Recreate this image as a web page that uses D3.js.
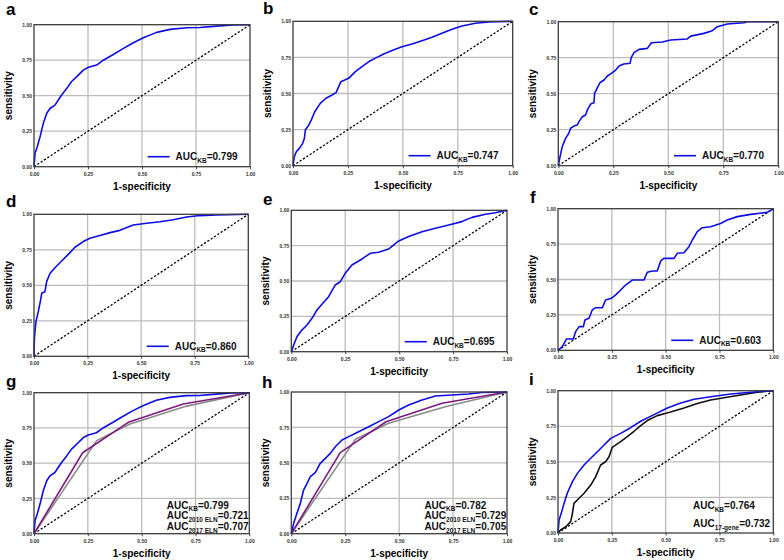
<!DOCTYPE html>
<html><head><meta charset="utf-8">
<script src="https://cdn.jsdelivr.net/npm/d3@7"></script>
<style>body{margin:0;background:#fff}svg{display:block}text{font-family:"Liberation Sans",Arial,sans-serif;font-weight:bold}</style>
</head><body><svg id="c" width="784" height="560"></svg>
<script>
// ---------- data ----------
const tickValues = [0, 0.25, 0.5, 0.75, 1];
const gridValues = [0.25, 0.5, 0.75];
const panelLetters = ["a","b","c","d","e","f","g","h","i"];
const xTitle = "1-specificity", yTitle = "sensitivity";

const rocA = [[0,0],[0.005,0.094],[0.015,0.14],[0.028,0.21],[0.043,0.305],[0.059,0.376],[0.074,0.41],[0.097,0.434],[0.117,0.48],[0.128,0.505],[0.151,0.55],[0.174,0.6],[0.198,0.634],[0.228,0.68],[0.252,0.70],[0.29,0.716],[0.321,0.75],[0.367,0.79],[0.414,0.833],[0.46,0.873],[0.506,0.908],[0.568,0.946],[0.63,0.967],[0.707,0.979],[0.769,0.98],[0.846,0.99],[0.92,0.998],[1,1]];
const rocB = [[0,0],[0.006,0.062],[0.015,0.097],[0.029,0.12],[0.044,0.155],[0.052,0.19],[0.056,0.247],[0.071,0.28],[0.083,0.316],[0.099,0.374],[0.124,0.432],[0.15,0.467],[0.178,0.49],[0.196,0.506],[0.218,0.582],[0.253,0.605],[0.284,0.651],[0.314,0.686],[0.352,0.727],[0.382,0.75],[0.413,0.774],[0.451,0.797],[0.496,0.824],[0.542,0.843],[0.587,0.866],[0.633,0.889],[0.678,0.917],[0.724,0.945],[0.769,0.968],[0.83,0.986],[0.891,0.995],[1,1]];
const rocC = [[0,0],[0.008,0.0625],[0.018,0.132],[0.033,0.19],[0.048,0.225],[0.056,0.26],[0.071,0.275],[0.086,0.282],[0.094,0.306],[0.109,0.34],[0.124,0.352],[0.132,0.387],[0.147,0.428],[0.162,0.4375],[0.165,0.502],[0.18,0.549],[0.189,0.576],[0.208,0.595],[0.223,0.623],[0.241,0.641],[0.261,0.664],[0.276,0.692],[0.298,0.706],[0.326,0.711],[0.332,0.752],[0.344,0.785],[0.367,0.808],[0.405,0.815],[0.423,0.854],[0.473,0.859],[0.511,0.873],[0.586,0.88],[0.602,0.9],[0.662,0.919],[0.7,0.9375],[0.723,0.965],[0.768,0.984],[0.844,0.993],[0.859,1],[1,1]];
const rocD = [[0,0],[0.002,0.127],[0.009,0.244],[0.02,0.315],[0.031,0.397],[0.036,0.444],[0.051,0.455],[0.059,0.526],[0.075,0.585],[0.098,0.624],[0.129,0.671],[0.16,0.718],[0.191,0.768],[0.23,0.808],[0.261,0.831],[0.308,0.85],[0.355,0.871],[0.401,0.887],[0.463,0.925],[0.526,0.937],[0.588,0.948],[0.65,0.962],[0.712,0.981],[0.774,0.991],[0.852,0.995],[1,1]];
const rocE = [[0,0],[0.011,0.047],[0.026,0.106],[0.049,0.153],[0.073,0.189],[0.096,0.236],[0.119,0.295],[0.142,0.335],[0.173,0.389],[0.204,0.472],[0.227,0.495],[0.25,0.554],[0.281,0.613],[0.328,0.656],[0.366,0.696],[0.405,0.703],[0.451,0.726],[0.498,0.783],[0.544,0.814],[0.606,0.849],[0.668,0.873],[0.73,0.896],[0.791,0.92],[0.838,0.95],[0.9,0.972],[0.946,0.983],[1,1]];
const rocF = [[0,0],[0.02,0.026],[0.04,0.08],[0.071,0.08],[0.082,0.132],[0.098,0.167],[0.118,0.167],[0.125,0.214],[0.144,0.226],[0.159,0.285],[0.175,0.301],[0.206,0.301],[0.221,0.355],[0.248,0.367],[0.268,0.391],[0.291,0.426],[0.314,0.461],[0.345,0.496],[0.399,0.496],[0.415,0.551],[0.438,0.56],[0.461,0.56],[0.477,0.631],[0.492,0.649],[0.539,0.649],[0.554,0.685],[0.585,0.689],[0.608,0.732],[0.624,0.779],[0.647,0.838],[0.67,0.866],[0.709,0.873],[0.755,0.896],[0.786,0.92],[0.833,0.944],[0.895,0.96],[0.972,0.974],[1,1]];
const eln2010G = [[0,0],[0.226,0.574],[0.438,0.79],[0.693,0.92],[1,1]];
const eln2017G = [[0,0],[0.291,0.66],[0.446,0.778],[0.709,0.905],[1,1]];
const rocH = [[0,0],[0.011,0.073],[0.026,0.144],[0.042,0.214],[0.057,0.308],[0.073,0.355],[0.088,0.402],[0.111,0.431],[0.134,0.496],[0.158,0.532],[0.181,0.567],[0.204,0.614],[0.235,0.661],[0.266,0.685],[0.312,0.72],[0.359,0.755],[0.405,0.791],[0.451,0.826],[0.498,0.873],[0.544,0.908],[0.606,0.944],[0.668,0.972],[0.745,0.979],[0.822,0.986],[0.884,0.996],[1,1]];
const eln2010H = [[0,0],[0.227,0.572],[0.439,0.79],[0.699,0.92],[1,1]];
const eln2017H = [[0,0],[0.297,0.666],[0.451,0.779],[0.714,0.896],[1,1]];
const rocI = [[0,0],[0.005,0.091],[0.015,0.138],[0.028,0.208],[0.043,0.279],[0.067,0.361],[0.09,0.419],[0.121,0.478],[0.152,0.525],[0.183,0.571],[0.214,0.618],[0.245,0.665],[0.291,0.7],[0.337,0.74],[0.384,0.785],[0.446,0.832],[0.508,0.878],[0.57,0.913],[0.632,0.94],[0.709,0.958],[0.802,0.977],[0.91,0.991],[1,1]];
const gene17I = [[0,0],[0.012,0.021],[0.036,0.044],[0.059,0.08],[0.067,0.138],[0.074,0.208],[0.098,0.244],[0.121,0.279],[0.152,0.337],[0.175,0.396],[0.198,0.478],[0.221,0.501],[0.237,0.536],[0.252,0.602],[0.291,0.642],[0.322,0.677],[0.353,0.715],[0.384,0.755],[0.415,0.79],[0.461,0.825],[0.523,0.85],[0.585,0.878],[0.647,0.91],[0.709,0.935],[0.771,0.95],[0.848,0.97],[0.926,0.989],[1,1]];

const aucLabels = {
  a:[["KB","0.799"]], b:[["KB","0.747"]], c:[["KB","0.770"]],
  d:[["KB","0.860"]], e:[["KB","0.695"]], f:[["KB","0.603"]],
  g:[["KB","0.799"],["2010 ELN","0.721"],["2017 ELN","0.707"]],
  h:[["KB","0.782"],["2010 ELN","0.729"],["2017 ELN","0.705"]],
  i:[["KB","0.764"],["17-gene","0.732"]]
};

// ---------- layout ----------
const BLUE="#0c0ce8", PURPLE="#7d1a80", GRAY="#8a8a8a", BLACK="#111";
const boxes = {
  a:[34,24.7,250,166.7], b:[293,21.3,512.7,165.7], c:[558.3,21.7,778.3,165.7],
  d:[34,214.3,248.3,356.3], e:[291.3,210.3,507,351.7], f:[558,208.7,773.3,350.3],
  g:[34,392.7,249.3,533.7], h:[291.3,392,507,533.7], i:[558,390.7,773.3,533]
};
const letterPos = {a:[6,15],b:[263,13.5],c:[529,15],d:[6,206.5],e:[263,205],f:[530,203],g:[6,387],h:[262,388],i:[529,385]};
const series = {
  a:[[rocA,BLUE]], b:[[rocB,BLUE]], c:[[rocC,BLUE]], d:[[rocD,BLUE]], e:[[rocE,BLUE]], f:[[rocF,BLUE]],
  g:[[eln2017G,GRAY],[eln2010G,PURPLE],[rocA,BLUE]],
  h:[[eln2017H,GRAY],[eln2010H,PURPLE],[rocH,BLUE]],
  i:[[gene17I,BLACK],[rocI,BLUE]]
};

const svg = d3.select("#c");

panelLetters.forEach(k => {
  const [L,T,R,B] = boxes[k];
  const x = d3.scaleLinear().domain([0,1]).range([L,R]);
  const y = d3.scaleLinear().domain([0,1]).range([B,T]);
  const g = svg.append("g");

  // grid
  const grid = g.append("g").attr("class","grid");
  gridValues.forEach(v => {
    grid.append("line").attr("x1",x(v)).attr("x2",x(v)).attr("y1",T).attr("y2",B)
      .attr("stroke","#bcbcbc").attr("stroke-width",1.3);
    grid.append("line").attr("y1",y(v)).attr("y2",y(v)).attr("x1",L).attr("x2",R)
      .attr("stroke","#bcbcbc").attr("stroke-width",1.3);
  });

  // axes
  const ax = g.append("g").attr("transform",`translate(0,${B})`)
    .call(d3.axisBottom(x).tickValues(tickValues).tickFormat(d3.format(".2f")).tickSize(2.5).tickPadding(3));
  const ay = g.append("g").attr("transform",`translate(${L},0)`)
    .call(d3.axisLeft(y).tickValues(tickValues).tickFormat(d3.format(".2f")).tickSize(0).tickPadding(2));
  [ax,ay].forEach(a=>{
    a.select(".domain").remove();
    a.selectAll("line").attr("stroke","#444");
    a.selectAll("text").attr("font-size",5).attr("fill","#333")
      .style("font-family",'"Liberation Sans",Arial,sans-serif').style("font-weight","bold");
  });

  // diagonal
  g.append("line").attr("x1",x(0)).attr("y1",y(0)).attr("x2",x(1)).attr("y2",y(1))
    .attr("stroke","#000").attr("stroke-width",1.3).attr("stroke-dasharray","2.2,1.8");

  // curves
  const line = d3.line().x(d=>x(d[0])).y(d=>y(d[1]));
  series[k].forEach(([data,col])=>{
    g.append("path").attr("d",line(data)).attr("fill","none")
      .attr("stroke",col).attr("stroke-width",1.6).attr("stroke-linejoin","round");
  });

  // frame
  g.append("rect").attr("x",L).attr("y",T).attr("width",R-L).attr("height",B-T)
    .attr("fill","none").attr("stroke","#3c3c3c").attr("stroke-width",1.3);

  // titles
  g.append("text").attr("x",(L+R)/2).attr("y",B+23).attr("text-anchor","middle")
    .attr("font-size",10).text(xTitle);
  g.append("text").attr("transform",`translate(${L-22},${(T+B)/2}) rotate(-90)`)
    .attr("text-anchor","middle").attr("font-size",10).text(yTitle);

  // panel letter
  g.append("text").attr("x",letterPos[k][0]).attr("y",letterPos[k][1])
    .attr("font-size",17).text(k);

  // legend / AUC text
  const labs = aucLabels[k];
  const W = R-L;
  const addAuc = (tx,ty,sub,val) => {
    const t = g.append("text").attr("x",tx).attr("y",ty).attr("font-size",10).attr("fill","#111");
    t.append("tspan").text("AUC");
    t.append("tspan").attr("font-size",6.5).attr("dy",2.5).text(sub);
    t.append("tspan").attr("dy",-2.5).text("=" + val);
  };
  if (labs.length === 1) {
    const lx = L + 0.526*W, ly = B - 10;
    g.append("line").attr("x1",lx).attr("x2",lx+22).attr("y1",ly).attr("y2",ly)
      .attr("stroke",BLUE).attr("stroke-width",1.6);
    addAuc(lx+28, ly+3.6, labs[0][0], labs[0][1]);
  } else if (labs.length === 3) {
    const tx = L + 0.617*W;
    [B-25,B-14.3,B-3.6].forEach((ty,j)=>addAuc(tx,ty,labs[j][0],labs[j][1]));
  } else {
    const tx = L + 0.627*W;
    [B-23.7,B-5.7].forEach((ty,j)=>addAuc(tx,ty,labs[j][0],labs[j][1]));
  }
});
</script></body></html>
